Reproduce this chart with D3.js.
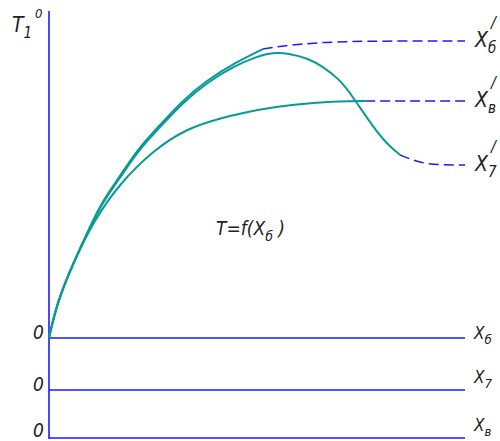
<!DOCTYPE html>
<html>
<head>
<meta charset="utf-8">
<script src="https://cdn.jsdelivr.net/npm/d3@7"></script>
<style>
  body { margin: 0; background: #fff; }
  text { font-family: "DejaVu Sans Condensed", "DejaVu Sans", sans-serif; font-style: italic; fill: #222; }
</style>
</head>
<body>
<div id="chart"></div>
<script>

// curve values: [x, T] in relative units (x 0..100, T 0..100)
const curveB = [[0,0],[1.9,11.7],[5.8,25.0],[9.9,37.3],[13.0,46.0],[17.1,54.0],[21.2,62.7],
  [26.0,70.0],[32.2,79.3],[38.0,86.0],[44.7,91.7],[51.4,96.3]];
const curveBDash = [[51.4,96.3],[55.5,97.3],[65.9,98.7],[79.6,99.0],[100,99.0]];

const curve7 = [[0,0],[1.9,11.6],[5.8,24.8],[9.9,37.0],[13.0,45.5],[17.1,53.4],[21.2,62.0],
  [26.0,69.3],[32.2,78.5],[38.0,85.2],[44.7,90.8],[50.0,93.8],[53.8,95.2],[58,94.8],[62,93.3],[66,90.4],
  [70,86.0],[73.1,80.3],[77.9,70.3],[81.5,64.3],[84.4,61.0]];
const curve7Dash = [[84.4,61.0],[89.2,58.3],[94,57.7],[100,57.7]];

const curveV = [[0,0],[1.9,11.7],[5.8,25.0],[10.7,39.0],[17.1,51.7],[25.2,62.7],[33.2,69.9],
  [41.1,73.2],[45.9,74.9],[55.5,77.3],[62,78.2],[70,79.0],[76,79.0]];
const curveVDash = [[76,79.0],[100,79.0]];

const rightLabels = [{sub: "б", y: 99.0}, {sub: "в", y: 79.0}, {sub: "7", y: 57.7}];
const baseLabels = ["б", "7", "в"];

const width = 500;
const height = 441;

const svg = d3.select("#chart")
  .append("svg")
  .attr("width", width)
  .attr("height", height);

// scales for the upper plot
const xScale = d3.scaleLinear().domain([0, 100]).range([49, 465]);
const yScale = d3.scaleLinear().domain([0, 100]).range([338, 38]);

// main baseline and the two extra ones below it
const baseY = [338, 390, 438];

const blue = "#1a1aff";
const teal = "#0a9a96";

// vertical axis
svg.append("line")
  .attr("x1", xScale(0)).attr("x2", xScale(0))
  .attr("y1", 11).attr("y2", 439)
  .attr("stroke", blue).attr("stroke-width", 1.6);

// horizontal axes
svg.selectAll(".base")
  .data(baseY)
  .enter()
  .append("line")
    .attr("class", "base")
    .attr("x1", xScale(0)).attr("x2", xScale(100))
    .attr("y1", d => d).attr("y2", d => d)
    .attr("stroke", blue).attr("stroke-width", 1.6);

const line = d3.line()
  .x(d => xScale(d[0]))
  .y(d => yScale(d[1]))
  .curve(d3.curveBasis);

// dashed continuations
[curveBDash, curve7Dash, curveVDash].forEach(c => {
  svg.append("path")
    .attr("d", line(c))
    .attr("fill", "none")
    .attr("stroke", blue)
    .attr("stroke-width", 1.5)
    .attr("stroke-dasharray", "10,5");
});

// solid curves
[curveV, curveB, curve7].forEach(c => {
  svg.append("path")
    .attr("d", line(c))
    .attr("fill", "none")
    .attr("stroke", teal)
    .attr("stroke-width", 2);
});

// y axis title T1 with superscript o
const tl = svg.append("text").attr("x", 12).attr("y", 32).attr("font-size", 21);
tl.append("tspan").text("T");
tl.append("tspan").attr("font-size", 15).attr("dy", 6).text("1");
svg.append("text").attr("x", 35).attr("y", 18).attr("font-size", 13).text("0");

// zero labels
const zeroY = [339, 391, 437];
svg.selectAll(".zero")
  .data(zeroY)
  .enter()
  .append("text")
    .attr("class", "zero")
    .attr("x", 33)
    .attr("y", d => d)
    .attr("font-size", 19)
    .text("0");

// labels at the right end of the baselines
const baseLabelY = [339, 383, 431];
baseLabels.forEach((s, i) => {
  const t = svg.append("text").attr("x", 474).attr("y", baseLabelY[i]).attr("font-size", 17);
  t.append("tspan").text("X");
  t.append("tspan").attr("font-size", 13).attr("dy", 5).text(s);
});

// labels at the ends of the dashed lines
rightLabels.forEach(d => {
  const y0 = yScale(d.y) + 6;
  const t = svg.append("text").attr("x", 475).attr("y", y0).attr("font-size", 21);
  t.append("tspan").text("X");
  t.append("tspan").attr("font-size", 15).attr("dy", 6).text(d.sub);
  svg.append("text").attr("x", 491).attr("y", y0 - 19).attr("font-size", 16).text("/");
});

// function label
const fl = svg.append("text").attr("x", 216).attr("y", 235).attr("font-size", 19);
fl.append("tspan").text("T=f(X");
fl.append("tspan").attr("font-size", 14).attr("dy", 6).text("б");
fl.append("tspan").attr("dy", -6).text(" )");

</script>
</body>
</html>
